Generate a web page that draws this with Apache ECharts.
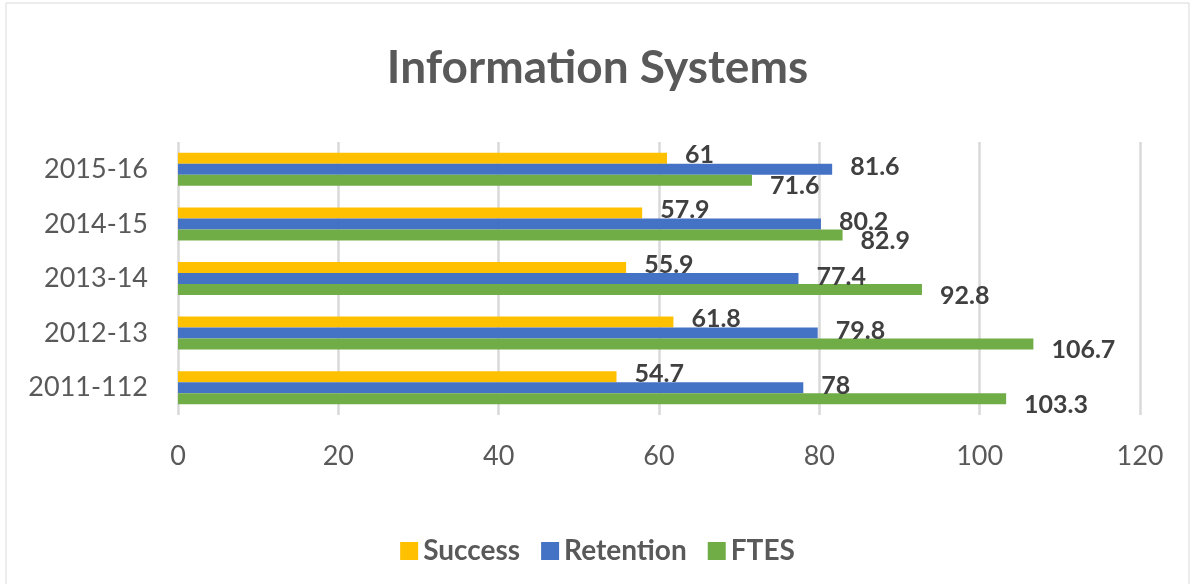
<!DOCTYPE html>
<html>
<head>
<meta charset="utf-8">
<script src="https://cdn.jsdelivr.net/npm/echarts@6/dist/echarts.min.js"></script>
<style>
html,body{margin:0;padding:0;background:#fff;}
#chart{width:1195px;height:584px;}
</style>
</head>
<body>
<div id="chart"></div>
<script>
// Data (categories listed bottom to top, as on the axis)
const categories = ['2011-112', '2012-13', '2013-14', '2014-15', '2015-16'];
const success = [54.7, 61.8, 55.9, 57.9, 61];
const retention = [78, 79.8, 77.4, 80.2, 81.6];
const ftes = [103.3, 106.7, 92.8, 82.9, 71.6];
const xTicks = [0, 20, 40, 60, 80, 100, 120];

const FONT = 'Lato, "Open Sans", sans-serif';
const chart = echarts.init(document.getElementById('chart'));

function mkSeries(name, data, color, offset) {
  return {
    name: name,
    type: 'bar',
    data: data,
    barWidth: 11,
    barGap: '0%',
    itemStyle: { color: color },
    label: {
      show: true,
      position: 'right',
      distance: 18,
      offset: offset,
      fontFamily: FONT,
      fontSize: 25,
      fontWeight: 'bold',
      color: '#404040'
    }
  };
}

chart.setOption({
  animation: false,
  backgroundColor: '#fff',
  title: {
    // zero-width non-joiner keeps the font from forming a "ti" ligature
    text: 'Informa\u200Ction Systems',
    left: 'center',
    top: 40,
    textStyle: { fontFamily: FONT, fontSize: 46, fontWeight: 'bold', color: '#595959' }
  },
  graphic: [{
    type: 'rect',
    shape: { x: 6, y: 3, width: 1183, height: 590 },
    style: { fill: 'none', stroke: '#d9d9d9', lineWidth: 1 },
    silent: true
  }],
  legend: {
    data: ['Success', 'Retention', 'FTES'],
    bottom: 14,
    left: 'center',
    itemWidth: 18,
    itemHeight: 18,
    itemGap: 21,
    icon: 'rect',
    textStyle: { fontFamily: FONT, fontSize: 28, fontWeight: 'bold', color: '#595959' }
  },
  grid: { left: 178, right: 55, top: 142, bottom: 169 },
  xAxis: {
    type: 'value',
    min: xTicks[0],
    max: xTicks[xTicks.length - 1],
    interval: xTicks[1] - xTicks[0],
    axisLine: { show: false },
    axisTick: { show: false },
    splitLine: { show: true, lineStyle: { color: '#d9d9d9', width: 2.5 } },
    axisLabel: { fontFamily: FONT, fontSize: 27, color: '#595959', margin: 28 }
  },
  yAxis: {
    type: 'category',
    data: categories,
    axisLine: { show: false },
    axisTick: { show: false },
    axisLabel: { fontFamily: FONT, fontSize: 27, color: '#595959', margin: 30 }
  },
  series: [
    mkSeries('Success', success, '#FFC000', [0, -3]),
    mkSeries('Retention', retention, '#4472C4', [0, -2]),
    mkSeries('FTES', ftes, '#70AD47', [0, 6])
  ]
});
</script>
</body>
</html>
